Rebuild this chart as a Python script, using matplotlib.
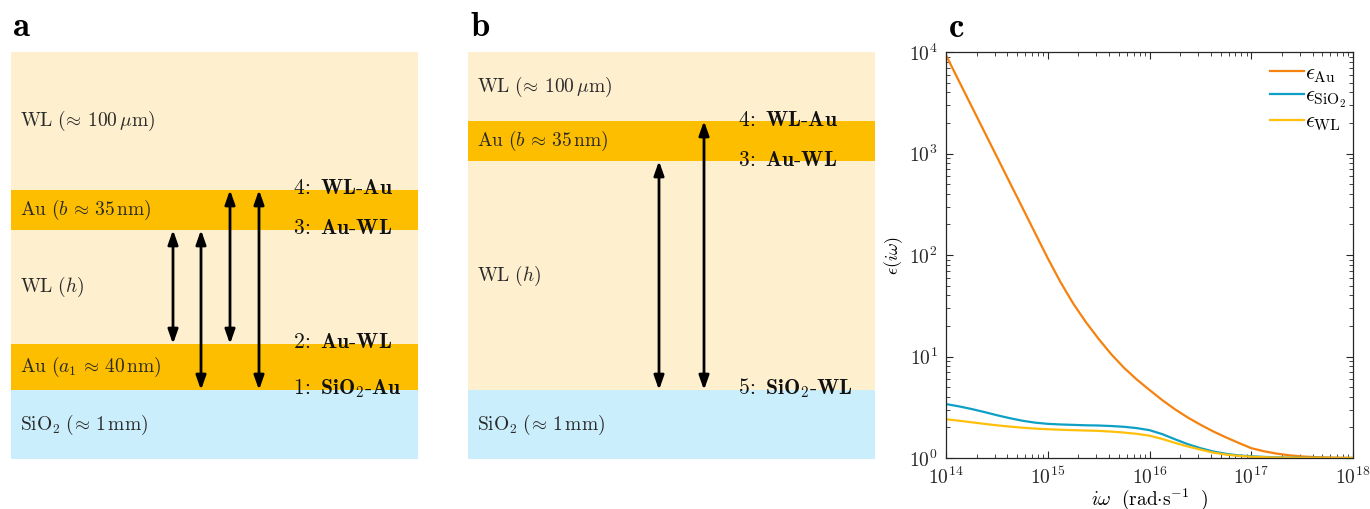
import numpy as np
import matplotlib

matplotlib.use("Agg")
import matplotlib.pyplot as plt
from matplotlib.ticker import FuncFormatter, LogLocator, NullFormatter

plt.rcParams["mathtext.fontset"] = "cm"
plt.rcParams["font.family"] = ["DejaVu Serif"]

# colours
WL_COLOR = "#FEF0CF"
AU_COLOR = "#FDBE00"
SIO2_COLOR = "#CAEEFB"

# panel a: layers from bottom to top (schematic thickness units)
A_LAYERS = ["SiO2", "Au", "WL", "Au", "WL"]
A_HEIGHTS = [69, 46, 114, 40, 138]
A_TEXT = [
    r"$\mathrm{SiO_2}\ (\!\approx\,1\,\mathrm{mm})$",
    r"$\mathrm{Au}\ (a_1\,\approx\,40\,\mathrm{nm})$",
    r"$\mathrm{WL}\ (h)$",
    r"$\mathrm{Au}\ (b\,\approx\,35\,\mathrm{nm})$",
    r"$\mathrm{WL}\ (\!\approx\,100\,\mu\mathrm{m})$",
]
# arrows: (x, lower interface index, upper interface index)
A_ARROWS = [(162, 2, 3), (190, 1, 3), (219, 2, 4), (248, 1, 4)]
# interface labels: (interface index, text)
A_LABELS = [
    (4, r"$\mathbf{4}\!{:}\ \mathbf{WL\text{-}Au}$"),
    (3, r"$\mathbf{3}\!{:}\ \mathbf{Au\text{-}WL}$"),
    (2, r"$\mathbf{2}\!{:}\ \mathbf{Au\text{-}WL}$"),
    (1, r"$\mathbf{1}\!{:}\ \mathbf{SiO_2\text{-}Au}$"),
]

# panel b
B_LAYERS = ["SiO2", "WL", "Au", "WL"]
B_HEIGHTS = [69, 229, 40, 69]
B_TEXT = [
    r"$\mathrm{SiO_2}\ (\!\approx\,1\,\mathrm{mm})$",
    r"$\mathrm{WL}\ (h)$",
    r"$\mathrm{Au}\ (b\,\approx\,35\,\mathrm{nm})$",
    r"$\mathrm{WL}\ (\!\approx\,100\,\mu\mathrm{m})$",
]
B_ARROWS = [(191, 1, 2), (236, 1, 3)]
B_LABELS = [
    (3, r"$\mathbf{4}\!{:}\ \mathbf{WL\text{-}Au}$"),
    (2, r"$\mathbf{3}\!{:}\ \mathbf{Au\text{-}WL}$"),
    (1, r"$\mathbf{5}\!{:}\ \mathbf{SiO_2\text{-}WL}$"),
]

# panel c: dielectric functions at imaginary frequency (log10 of omega)
LOG_OMEGA = [14.0, 14.125, 14.25, 14.375, 14.5, 14.625, 14.75, 14.875,
             15.0, 15.125, 15.25, 15.375, 15.5, 15.625, 15.75, 15.875,
             16.0, 16.125, 16.25, 16.375, 16.5, 16.625, 16.75, 16.875,
             17.0, 17.125, 17.25, 17.375, 17.5, 17.625, 17.75, 17.875, 18.0]
EPS_AU = [9300, 5224, 2938, 1652, 929, 522, 294, 165,
          93, 54.1, 33.3, 21.8, 14.9, 10.5, 7.73, 5.93,
          4.68, 3.72, 3.02, 2.51, 2.13, 1.83, 1.60, 1.41,
          1.25, 1.165, 1.105, 1.063, 1.036, 1.02, 1.011, 1.005, 1.002]
EPS_SIO2 = [3.4, 3.23, 3.04, 2.84, 2.64, 2.47, 2.33, 2.23,
            2.17, 2.14, 2.12, 2.10, 2.09, 2.065, 2.03, 1.97,
            1.88, 1.72, 1.53, 1.37, 1.25, 1.16, 1.10, 1.06,
            1.04, 1.025, 1.015, 1.008, 1.005, 1.003, 1.001, 1.0, 1.0]
EPS_WL = [2.41, 2.33, 2.25, 2.17, 2.10, 2.04, 1.99, 1.95,
          1.92, 1.90, 1.88, 1.865, 1.85, 1.82, 1.78, 1.73,
          1.66, 1.54, 1.41, 1.30, 1.21, 1.13, 1.08, 1.05,
          1.03, 1.018, 1.01, 1.005, 1.003, 1.002, 1.001, 1.0, 1.0]

LAYER_COLORS = {"WL": WL_COLOR, "Au": AU_COLOR, "SiO2": SIO2_COLOR}

W, H = 1370, 509


def px_axes(fig, x0, y0, x1, y1):
    return fig.add_axes([x0 / W, 1 - y1 / H, (x1 - x0) / W, (y1 - y0) / H])


def draw_stack(ax, layers, heights, texts, arrows, labels, label_x):
    width = 407
    bottoms = np.concatenate([[0], np.cumsum(heights)[:-1]])
    ax.bar(0, heights, width=width, bottom=bottoms, align="edge",
           color=[LAYER_COLORS[l] for l in layers], linewidth=0)
    interfaces = np.concatenate([[0], np.cumsum(heights)])
    for b, h, t in zip(bottoms, heights, texts):
        ax.text(9, b + h / 2, t, fontsize=14, va="center", ha="left", color="#2a2a2a")
    for x, i0, i1 in arrows:
        ax.annotate("", xy=(x, interfaces[i1]), xytext=(x, interfaces[i0]),
                    arrowprops=dict(arrowstyle="<|-|>,head_length=0.85,head_width=0.3",
                                    mutation_scale=10, lw=2.0, color="black",
                                    shrinkA=0, shrinkB=0))
    for i, t in labels:
        ax.text(label_x, interfaces[i] + 1.5, t, fontsize=15.5, va="center", ha="left",
                color="#111111")
    ax.set_xlim(0, width)
    ax.set_ylim(0, sum(heights))
    ax.axis("off")


def main() -> int:
    fig = plt.figure(figsize=(W / 100, H / 100), dpi=100)

    ax_a = px_axes(fig, 11, 52, 418, 459)
    draw_stack(ax_a, A_LAYERS, A_HEIGHTS, A_TEXT, A_ARROWS, A_LABELS, 282)

    ax_b = px_axes(fig, 468, 52, 875, 459)
    draw_stack(ax_b, B_LAYERS, B_HEIGHTS, B_TEXT, B_ARROWS, B_LABELS, 270)

    omega = 10.0 ** np.array(LOG_OMEGA)
    ax_c = px_axes(fig, 946, 52, 1353, 458)
    ax_c.plot(omega, EPS_AU, color="#F5820F", lw=1.6, label=r"$\epsilon_{\mathrm{Au}}$")
    ax_c.plot(omega, EPS_SIO2, color="#0DA0C4", lw=1.6, label=r"$\epsilon_{\mathrm{SiO_2}}$")
    ax_c.plot(omega, EPS_WL, color="#FFBF0A", lw=1.6, label=r"$\epsilon_{\mathrm{WL}}$")
    ax_c.set_xscale("log")
    ax_c.set_yscale("log")
    ax_c.set_xlim(1e14, 1e18)
    ax_c.set_ylim(1, 1e4)
    fmt = FuncFormatter(lambda v, _: rf"$10^{{{int(round(np.log10(v)))}}}$")
    for axis in (ax_c.xaxis, ax_c.yaxis):
        axis.set_major_locator(LogLocator(base=10, numticks=10))
        axis.set_minor_locator(LogLocator(base=10, subs=np.arange(2, 10), numticks=10))
        axis.set_major_formatter(fmt)
        axis.set_minor_formatter(NullFormatter())
    ax_c.tick_params(which="both", direction="in", top=True, right=True, colors="#262626")
    ax_c.tick_params(which="major", length=5, width=0.8, labelsize=14, pad=6)
    ax_c.tick_params(which="minor", length=3, width=0.6)
    for s in ax_c.spines.values():
        s.set_color("#262626")
        s.set_linewidth(0.9)
    ax_c.set_xlabel(r"$i\omega\ \ (\mathrm{rad{\cdot}s^{-1}}\ \ )$", fontsize=14, labelpad=-1)
    ax_c.set_ylabel(r"$\epsilon(i\omega)$", fontsize=13, labelpad=3)
    ax_c.legend(loc="upper right", bbox_to_anchor=(0.985, 0.975), frameon=False,
                fontsize=16, handlelength=1.55, handletextpad=0.05, labelspacing=0.0,
                borderpad=0, borderaxespad=0)

    for x, y, t in [(12, 36, "a"), (470, 36, "b"), (948, 37, "c")]:
        fig.text(x / W, 1 - y / H, rf"$\mathbf{{{t}}}$", fontsize=25, va="baseline", ha="left")

    fig.savefig("out.png", dpi=100)
    plt.close(fig)
    return 0


if __name__ == "__main__":
    raise SystemExit(main())
